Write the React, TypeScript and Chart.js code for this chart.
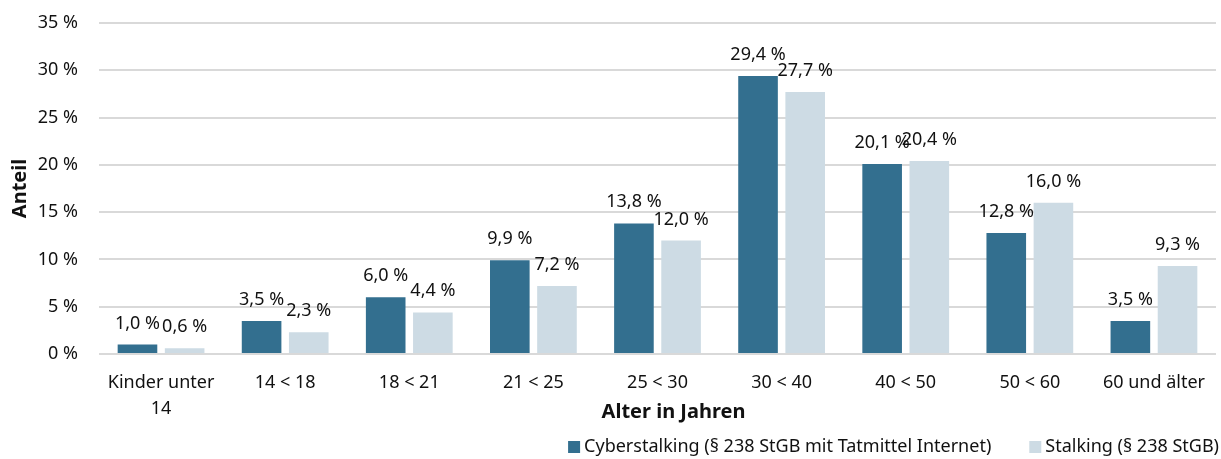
import React, { useEffect, useRef } from "react";
import { Chart, registerables } from "chart.js";

Chart.register(...registerables);

const categories: (string | string[])[] = [
  ["Kinder unter", "14"],
  "14 < 18",
  "18 < 21",
  "21 < 25",
  "25 < 30",
  "30 < 40",
  "40 < 50",
  "50 < 60",
  "60 und älter",
];
const cyberValues = [1.0, 3.5, 6.0, 9.9, 13.8, 29.4, 20.1, 12.8, 3.5];
const stalkingValues = [0.6, 2.3, 4.4, 7.2, 12.0, 27.7, 20.4, 16.0, 9.3];
const seriesNames = [
  "Cyberstalking (§ 238 StGB mit Tatmittel Internet)",
  "Stalking (§ 238 StGB)",
];
const seriesColors = ["#336f8f", "#cddbe4"];
const xTitle = "Alter in Jahren";
const yTitle = "Anteil";

const FONT = "'Noto Sans', sans-serif";
const TEXT = "#111111";
const fmt = (v: number) => v.toFixed(1).replace(".", ",") + " %";

const labelPlugin = {
  id: "barLabels",
  afterDatasetsDraw(chart: any) {
    const ctx = chart.ctx;
    ctx.save();
    ctx.font = `18px ${FONT}`;
    ctx.fillStyle = TEXT;
    ctx.textAlign = "center";
    ctx.textBaseline = "alphabetic";
    chart.data.datasets.forEach((ds: any, i: number) => {
      const meta = chart.getDatasetMeta(i);
      meta.data.forEach((bar: any, j: number) => {
        ctx.fillText(fmt(ds.data[j]), bar.x, bar.y - 16);
      });
    });
    ctx.restore();
  },
};

const legendPlugin = {
  id: "customLegend",
  afterDraw(chart: any) {
    const ctx = chart.ctx;
    ctx.save();
    // x axis title (offset to the right as in the reference)
    ctx.font = `bold 20px ${FONT}`;
    ctx.fillStyle = TEXT;
    ctx.textAlign = "center";
    ctx.textBaseline = "middle";
    ctx.fillText(xTitle, chart.chartArea.left + (chart.chartArea.right - chart.chartArea.left) / 2 + 16, 412);

    ctx.font = `18px ${FONT}`;
    ctx.textBaseline = "middle";
    ctx.textAlign = "left";
    const box = 12;
    const boxGap = 4;
    const itemGap = 38;
    const yc = 447;
    const ds = chart.data.datasets;
    const widths = ds.map((d: any) => box + boxGap + ctx.measureText(d.label).width);
    const total = widths.reduce((a: number, b: number) => a + b, 0) + itemGap * (ds.length - 1);
    let x = 1219 - total;
    ds.forEach((d: any, i: number) => {
      ctx.fillStyle = d.backgroundColor;
      ctx.fillRect(x, yc - box / 2, box, box);
      ctx.fillStyle = TEXT;
      ctx.fillText(d.label, x + box + boxGap, yc);
      x += widths[i] + itemGap;
    });
    ctx.restore();
  },
};

export default function App() {
  const ref = useRef<HTMLCanvasElement>(null);
  useEffect(() => {
    document.body.style.margin = "0";
    const chart = new Chart(ref.current!, {
      type: "bar",
      data: {
        labels: categories,
        datasets: [
          {
            label: seriesNames[0],
            data: cyberValues,
            backgroundColor: seriesColors[0],
            categoryPercentage: 0.76,
            barPercentage: 0.84,
          },
          {
            label: seriesNames[1],
            data: stalkingValues,
            backgroundColor: seriesColors[1],
            categoryPercentage: 0.76,
            barPercentage: 0.84,
          },
        ],
      },
      plugins: [labelPlugin, legendPlugin],
      options: {
        animation: false,
        responsive: false,
        maintainAspectRatio: false,
        layout: { padding: { top: 0, left: 8, right: 0, bottom: 35 } },
        plugins: {
          tooltip: { enabled: false },
          legend: { display: false },
        },
        scales: {
          x: {
            afterFit: (s: any) => {
              s.height = 70;
            },
            grid: { display: false, drawTicks: false },
            border: { display: false },
            ticks: {
              color: TEXT,
              font: { family: FONT, size: 18, lineHeight: 1.45 },
              maxRotation: 0,
              autoSkip: false,
              padding: 16,
            },
            title: { display: false, text: xTitle },
          },
          y: {
            min: 0,
            max: 35,
            afterFit: (s: any) => {
              s.width = 91;
              s.paddingTop = 23;
            },
            grid: { color: "#d9d9d9", lineWidth: 2, drawTicks: false },
            border: { display: false },
            ticks: {
              stepSize: 5,
              color: TEXT,
              font: { family: FONT, size: 18 },
              padding: 21,
              callback: (v: any) => v + " %",
            },
            title: {
              display: true,
              text: yTitle,
              color: TEXT,
              font: { family: FONT, size: 20, weight: "bold" },
              padding: { top: 0, bottom: 6 },
            },
          },
        },
      },
    });
    return () => chart.destroy();
  }, []);
  return (
    <div style={{ position: "absolute", left: 0, top: 0, width: 1221, height: 459 }}>
      <canvas ref={ref} width={1221} height={459} style={{ width: 1221, height: 459 }} />
    </div>
  );
}
